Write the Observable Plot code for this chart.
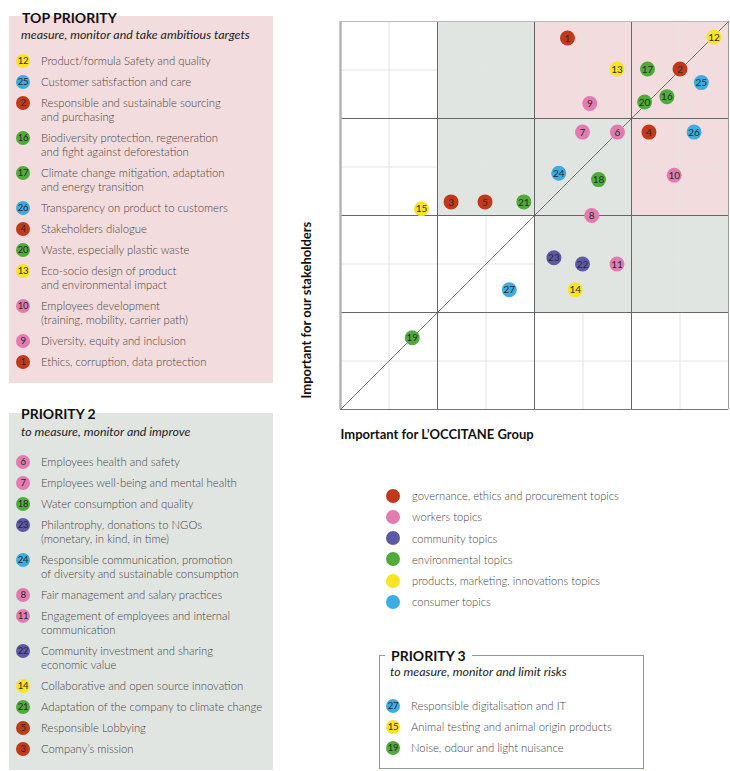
<!DOCTYPE html>
<html>
<head>
<meta charset="utf-8">
<script src="https://cdn.jsdelivr.net/npm/d3@7"></script>
<script src="https://cdn.jsdelivr.net/npm/@observablehq/plot@0.6"></script>
<style>
  html, body { margin: 0; padding: 0; background: #fff; }
  body { width: 730px; height: 771px; position: relative; font-family: Lato, "Open Sans", sans-serif; color: #3a3a3a; overflow: hidden; }
  .panel { position: absolute; }
  .ptitle { position: absolute; font-weight: 700; font-size: 14px; line-height: 14px; color: #111; white-space: nowrap; }
  .psub { position: absolute; font-style: italic; font-size: 12.4px; line-height: 12px; color: #222; white-space: nowrap; }
  .list { position: absolute; }
  .item { position: relative; padding-left: 25px; font-size: 11.3px; font-weight: 300; line-height: 14px; margin-bottom: 7px; color: #444; white-space: nowrap; }
  .num { position: absolute; left: 0; top: 0; width: 14px; height: 14px; border-radius: 50%; font-size: 9.5px; font-weight: 400; line-height: 14px; text-align: center; color: #2a2a2a; letter-spacing: -0.3px; }
  .cat { position: relative; padding-left: 26px; font-size: 11.2px; font-weight: 300; line-height: 13px; margin-bottom: 8.3px; color: #444; white-space: nowrap; }
  .dot { position: absolute; left: 0; top: -0.5px; width: 14px; height: 14px; border-radius: 50%; }
</style>
</head>
<body>
<div id="chart" style="position:absolute; left:300px; top:0px;"></div>

<div class="panel" style="left:9px; top:16px; width:264px; height:367px; background:#f3dcdd;"></div>
<div class="ptitle" style="left:22px; top:10.5px;">TOP PRIORITY</div>
<div class="psub" style="left:21px; top:28.5px;">measure, monitor and take ambitious targets</div>
<div class="list" id="list1" style="left:16px; top:54px;"></div>

<div class="panel" style="left:9px; top:413px; width:264px; height:357px; background:#e1e5e2;"></div>
<div class="ptitle" style="left:21px; top:407px;">PRIORITY 2</div>
<div class="psub" style="left:21px; top:425.5px;">to measure, monitor and improve</div>
<div class="list" id="list2" style="left:16px; top:455px;"></div>

<div class="list" id="catlist" style="left:386px; top:489px;"></div>

<div class="panel" style="left:379px; top:655px; width:263px; height:112px; border:1.5px solid #8e9c8e;"></div>
<div class="ptitle" style="left:385px; top:649px; background:#fff; padding:0 6px;">PRIORITY 3</div>
<div class="psub" style="left:390px; top:665.5px;">to measure, monitor and limit risks</div>
<div class="list" id="list3" style="left:386px; top:699px;"></div>

<script>
// Topic categories and colours
const categories = ["governance", "workers", "community", "environment", "products", "consumer"];
const categoryColors = ["#c1391b", "#e27bb0", "#5d59a5", "#4fac3a", "#f8e521", "#3badE3"];
const categoryLabels = [
  "governance, ethics and procurement topics",
  "workers topics",
  "community topics",
  "environmental topics",
  "products, marketing, innovations topics",
  "consumer topics"
];

// Topics: id, category, importance for group (x), importance for stakeholders (y)
const topicIds =   [1, 2, 3, 4, 5, 6, 7, 8, 9, 10, 11, 12, 13, 14, 15, 16, 17, 18, 19, 20, 21, 22, 23, 24, 25, 26, 27];
const topicCats =  ["governance","governance","governance","governance","governance","workers","workers","workers","workers","workers","workers","products","products","products","products","environment","environment","environment","environment","environment","environment","community","community","consumer","consumer","consumer","consumer"];
const groupScore = [4.68, 7.00, 2.28, 6.36, 2.98, 5.71, 4.99, 5.18, 5.14, 6.88, 5.70, 7.70, 5.70, 4.84, 1.67, 6.73, 6.33, 5.32, 1.48, 6.27, 3.78, 4.99, 4.40, 4.50, 7.44, 7.29, 3.48];
const stakeScore = [7.66, 7.02, 4.28, 5.72, 4.28, 5.72, 5.72, 4.00, 6.31, 4.83, 3.00, 7.68, 7.02, 2.47, 4.14, 6.45, 7.02, 4.74, 1.48, 6.34, 4.28, 3.00, 3.13, 4.87, 6.74, 5.72, 2.47];
const topicNames = {
  1: "Ethics, corruption, data protection",
  2: "Responsible and sustainable sourcing<br>and purchasing",
  3: "Company’s mission",
  4: "Stakeholders dialogue",
  5: "Responsible Lobbying",
  6: "Employees health and safety",
  7: "Employees well-being and mental health",
  8: "Fair management and salary practices",
  9: "Diversity, equity and inclusion",
  10: "Employees development<br>(training, mobility, carrier path)",
  11: "Engagement of employees and internal<br>communication",
  12: "Product/formula Safety and quality",
  13: "Eco-socio design of product<br>and environmental impact",
  14: "Collaborative and open source innovation",
  15: "Animal testing and animal origin products",
  16: "Biodiversity protection, regeneration<br>and fight against deforestation",
  17: "Climate change mitigation, adaptation<br>and energy transition",
  18: "Water consumption and quality",
  19: "Noise, odour and light nuisance",
  20: "Waste, especially plastic waste",
  21: "Adaptation of the company to climate change",
  22: "Community investment and sharing<br>economic value",
  23: "Philantrophy, donations to NGOs<br>(monetary, in kind, in time)",
  24: "Responsible communication, promotion<br>of diversity and sustainable consumption",
  25: "Customer satisfaction and care",
  26: "Transparency on product to customers",
  27: "Responsible digitalisation and IT"
};

// Priority lists (order as in legend)
const topPriority = [12, 25, 2, 16, 17, 26, 4, 20, 13, 10, 9, 1];
const priority2 = [6, 7, 18, 23, 24, 8, 11, 22, 14, 21, 5, 3];
const priority3 = [27, 15, 19];

// Matrix zones (cells in axis units) and fill
const zoneX1 = [4, 6, 2, 4, 6];
const zoneX2 = [8, 8, 4, 6, 8];
const zoneY1 = [6, 4, 4, 2, 2];
const zoneY2 = [8, 6, 8, 6, 4];
const zoneFill = ["#f3dcdd", "#f3dcdd", "#e1e5e2", "#e1e5e2", "#e1e5e2"];

const majorTicks = [2, 4, 6];
const minorTicks = [1, 3, 5, 7];
const axisMax = 8;

const colorOf = Object.fromEntries(categories.map((c, i) => [c, categoryColors[i]]));
const topics = topicIds.map((id, i) => ({id, cat: topicCats[i], x: groupScore[i], y: stakeScore[i]}));
const zones = zoneX1.map((x1, i) => ({x1, x2: zoneX2[i], y1: zoneY1[i], y2: zoneY2[i], fill: zoneFill[i]}));

const chart = Plot.plot({
  width: 430,
  height: 450,
  marginLeft: 40,
  marginRight: 2,
  marginTop: 21,
  marginBottom: 41,
  x: {domain: [0, axisMax], axis: null},
  y: {domain: [0, axisMax], axis: null},
  color: {domain: categories, range: categoryColors},
  style: {fontFamily: "Lato, sans-serif", background: "transparent", overflow: "visible"},
  marks: [
    Plot.rect(zones, {x1: "x1", x2: "x2", y1: "y1", y2: "y2", fill: d => d.fill}),
    Plot.ruleX(minorTicks, {stroke: "#e4e4e4", strokeWidth: 1}),
    Plot.ruleY(minorTicks, {stroke: "#e4e4e4", strokeWidth: 1}),
    Plot.ruleX(majorTicks, {stroke: "#666", strokeWidth: 1}),
    Plot.ruleY(majorTicks, {stroke: "#666", strokeWidth: 1}),
    Plot.ruleX([0], {stroke: "#b5b5b5", strokeWidth: 2.5}),
    Plot.ruleX([axisMax], {stroke: "#999", strokeWidth: 1}),
    Plot.ruleY([axisMax], {stroke: "#bbb", strokeWidth: 1}),
    Plot.ruleY([0], {stroke: "#777", strokeWidth: 1}),
    Plot.line([[0, 0], [axisMax, axisMax]], {stroke: "#555", strokeWidth: 0.8}),
    Plot.dot(topics, {x: "x", y: "y", r: 7.5, fill: "cat", stroke: "none"}),
    Plot.text(topics, {x: "x", y: "y", text: "id", fill: "#2a2a2a", fontSize: 10, dy: 0.5}),
    Plot.text(["Important for L’OCCITANE Group"], {frameAnchor: "bottom-left", textAnchor: "start", dy: 29, fontSize: 13, fontWeight: "bold", fill: "#111"}),
    Plot.text(["Important for our stakeholders"], {frameAnchor: "bottom-left", textAnchor: "start", rotate: -90, dx: -30, dy: -11, fontSize: 13, fontWeight: "bold", fill: "#111"})
  ]
});
document.getElementById("chart").appendChild(chart);

function fillList(elId, ids) {
  const el = document.getElementById(elId);
  for (const id of ids) {
    const cat = topicCats[topicIds.indexOf(id)];
    const div = document.createElement("div");
    div.className = "item";
    div.innerHTML = `<span class="num" style="background:${colorOf[cat]}">${id}</span>${topicNames[id]}`;
    el.appendChild(div);
  }
}
fillList("list1", topPriority);
fillList("list2", priority2);
fillList("list3", priority3);

const catEl = document.getElementById("catlist");
categories.forEach((c, i) => {
  const div = document.createElement("div");
  div.className = "cat";
  div.innerHTML = `<span class="dot" style="background:${categoryColors[i]}"></span>${categoryLabels[i]}`;
  catEl.appendChild(div);
});
</script>
</body>
</html>
